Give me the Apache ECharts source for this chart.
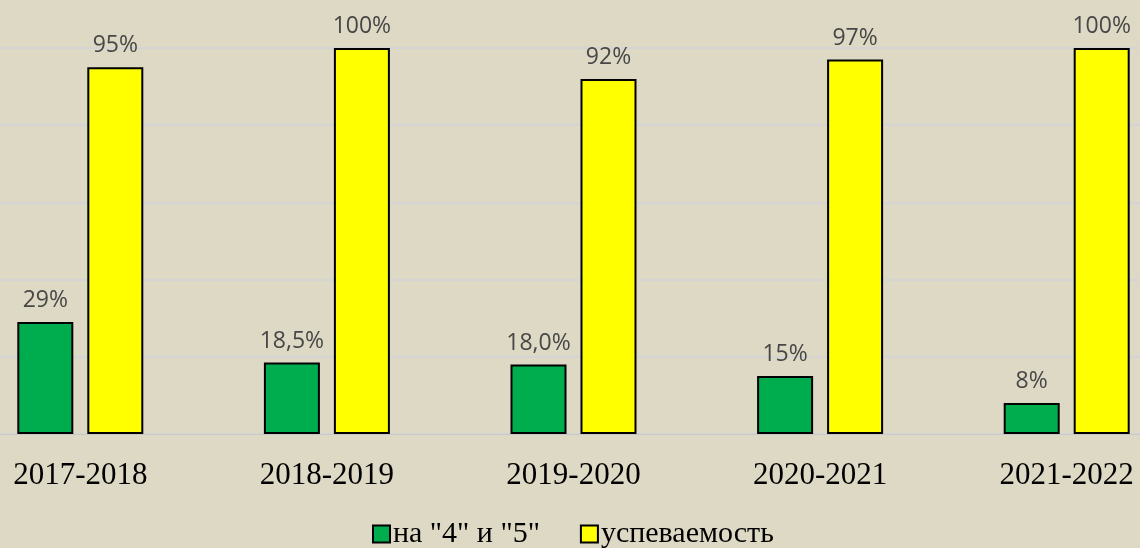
<!DOCTYPE html>
<html>
<head>
<meta charset="utf-8">
<script src="https://cdn.jsdelivr.net/npm/echarts@6/dist/echarts.min.js"></script>
<style>
  html, body { margin: 0; padding: 0; background: #ded9c4; }
  #container { width: 1140px; height: 548px; }
</style>
</head>
<body>
<div id="container"></div>
<script>
var years = ['2017-2018', '2018-2019', '2019-2020', '2020-2021', '2021-2022'];
var goodMarks = [29, 18.5, 18.0, 15, 8];
var goodMarksLabels = ['29%', '18,5%', '18,0%', '15%', '8%'];
var progress = [95, 100, 92, 97, 100];
var progressLabels = ['95%', '100%', '92%', '97%', '100%'];

var myChart = echarts.init(document.getElementById('container'));

function labelOf(arr) {
    return function (p) { return arr[p.dataIndex]; };
}

var valueLabel = {
    show: true,
    position: 'top',
    distance: 10,
    fontFamily: 'Open Sans',
    fontSize: 23,
    color: '#474747'
};

myChart.setOption({
    backgroundColor: '#ded9c4',
    animation: false,
    grid: {
        left: -43, top: 48, width: 1233, height: 386,
        containLabel: false, outerBoundsMode: 'none'
    },
    legend: {
        top: 514,
        left: 367,
        itemWidth: 17,
        itemHeight: 17,
        itemGap: 40,
        icon: 'rect',
        textStyle: { fontFamily: 'Liberation Serif', fontSize: 30, color: '#000', padding: [0, 0, 0, -2] }
    },
    xAxis: {
        type: 'category',
        data: years,
        axisLine: { show: true, lineStyle: { color: '#c8c8c8', width: 1 } },
        axisTick: { show: false },
        axisLabel: { fontFamily: 'Liberation Serif', fontSize: 31, color: '#000', margin: 26 }
    },
    yAxis: {
        type: 'value',
        min: 0,
        max: 100,
        interval: 20,
        axisLabel: { show: false },
        axisLine: { show: false },
        axisTick: { show: false },
        splitLine: { lineStyle: { color: '#d4d4d4', width: 2 } }
    },
    series: [
        {
            name: 'на "4" и "5"',
            type: 'bar',
            data: goodMarks,
            barWidth: 56,
            barGap: '25%',
            itemStyle: { color: '#00ad4e', borderColor: '#000', borderWidth: 2 },
            label: Object.assign({ formatter: labelOf(goodMarksLabels) }, valueLabel)
        },
        {
            name: 'успеваемость',
            type: 'bar',
            data: progress,
            barWidth: 56,
            barGap: '25%',
            itemStyle: { color: '#ffff00', borderColor: '#000', borderWidth: 2 },
            label: Object.assign({ formatter: labelOf(progressLabels) }, valueLabel)
        }
    ]
});
</script>
</body>
</html>
